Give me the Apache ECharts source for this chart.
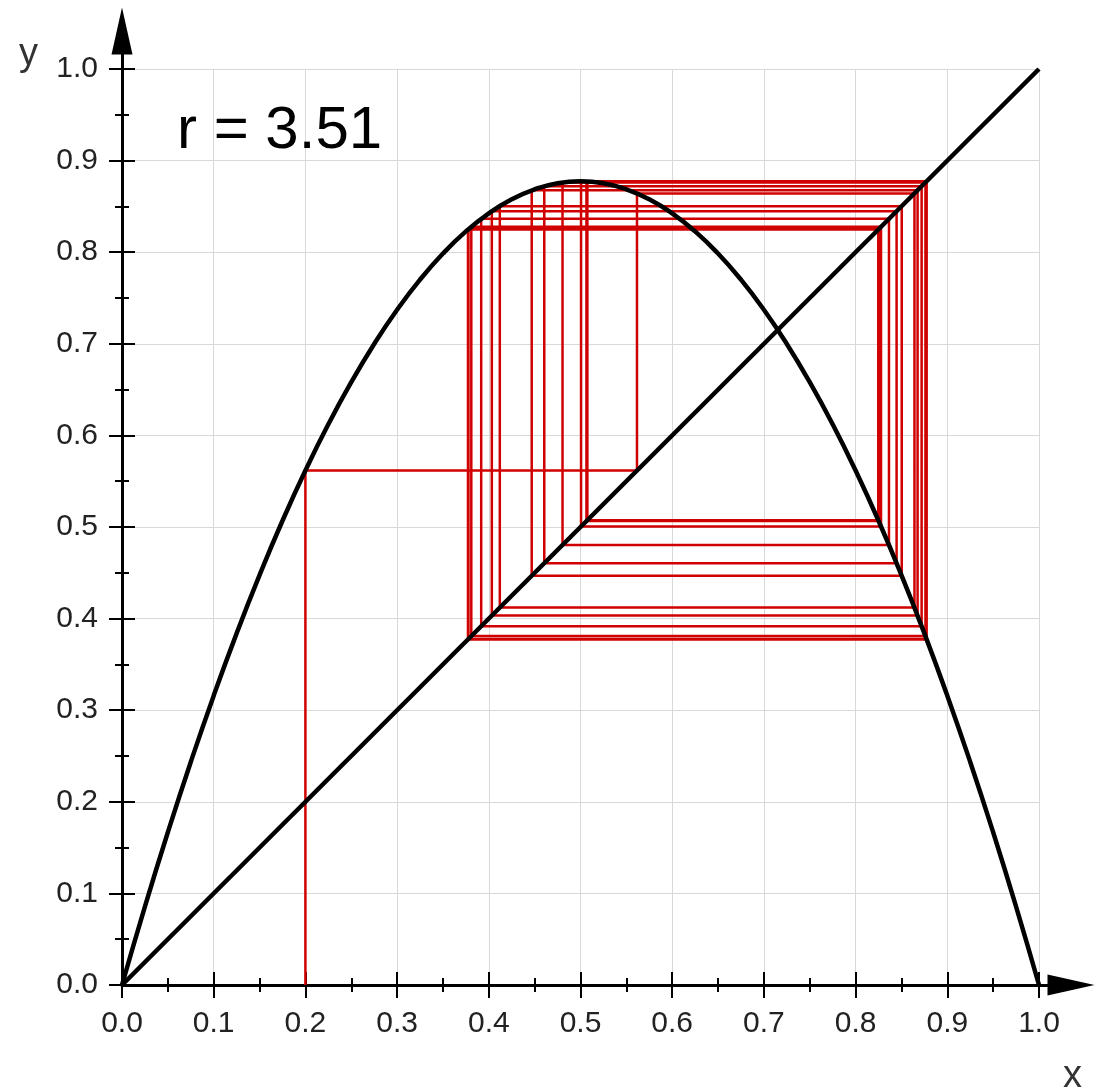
<!DOCTYPE html>
<html>
<head>
<meta charset="utf-8">
<script src="https://cdn.jsdelivr.net/npm/echarts@6/dist/echarts.min.js"></script>
<style>
  html, body { margin: 0; padding: 0; background: #ffffff; }
  #chart { width: 1098px; height: 1091px; }
</style>
</head>
<body>
<div id="chart"></div>
<script>
// Logistic map cobweb diagram, r = 3.51, starting point x0 = 0.2

const titleText = 'r = 3.51';
const xName = 'x';
const yName = 'y';

// Samples of the parabola y = r·x·(1 − x)
const curveX = [0, 0.025, 0.05, 0.075, 0.1, 0.125, 0.15, 0.175, 0.2, 0.225,
                0.25, 0.275, 0.3, 0.325, 0.35, 0.375, 0.4, 0.425, 0.45, 0.475,
                0.5, 0.525, 0.55, 0.575, 0.6, 0.625, 0.65, 0.675, 0.7, 0.725,
                0.75, 0.775, 0.8, 0.825, 0.85, 0.875, 0.9, 0.925, 0.95, 0.975, 1];
const curveY = [0, 0.0856, 0.1667, 0.2435, 0.3159, 0.3839, 0.4475, 0.5068, 0.5616, 0.6121,
                0.6581, 0.6998, 0.7371, 0.7700, 0.7985, 0.8227, 0.8424, 0.8578, 0.8687, 0.8753,
                0.8775, 0.8753, 0.8687, 0.8578, 0.8424, 0.8227, 0.7985, 0.7700, 0.7371, 0.6998,
                0.6581, 0.6121, 0.5616, 0.5068, 0.4475, 0.3839, 0.3159, 0.2435, 0.1667, 0.0856, 0];

// Identity line y = x
const diagonalX = [0, 1];
const diagonalY = [0, 1];

// Successive iterates x0, x1, x2, ...
const orbit = [0.2, 0.5616, 0.8642, 0.4120, 0.8503, 0.4468, 0.8676, 0.4033, 0.8447, 0.4605,
               0.8720, 0.3917, 0.8364, 0.4804, 0.8762, 0.3809, 0.8277, 0.5006, 0.8775, 0.3773,
               0.8247, 0.5075, 0.8773, 0.3778, 0.8251, 0.5065, 0.8774, 0.3777, 0.8250, 0.5068,
               0.8773, 0.3777, 0.8250, 0.5067, 0.8773];

// Cobweb path: up to the curve, across to the diagonal, repeat
const cobweb = [[orbit[0], 0]];
for (let i = 0; i < orbit.length - 1; i++) {
  cobweb.push([orbit[i], orbit[i + 1]]);
  cobweb.push([orbit[i + 1], orbit[i + 1]]);
}
const curve = curveX.map((x, i) => [x, curveY[i]]);
const diagonal = diagonalX.map((x, i) => [x, diagonalY[i]]);

const FONT = '"Liberation Sans", Arial, sans-serif';
const fmt = v => v.toFixed(1);

// Ticks cross the axis: one axis draws the outer half, a twin draws the inner half
function tickAxis(pos, inside, withLabels) {
  return {
    type: 'value', gridIndex: 0, position: pos,
    min: 0, max: 1, interval: 0.1,
    axisLine: { show: false, onZero: false },
    axisTick: { show: true, inside: inside, length: 13, lineStyle: { color: '#000', width: 2 } },
    minorTick: { show: true, splitNumber: 2, length: 7, lineStyle: { color: '#000', width: 2 } },
    axisLabel: {
      show: withLabels, margin: 24, fontSize: 30, color: '#222', fontFamily: FONT, formatter: fmt
    },
    splitLine: { show: withLabels, lineStyle: { color: '#d9d9d9', width: 1 } },
    minorSplitLine: { show: false }
  };
}

// Axis lines running past 1.0 and ending in solid arrowheads
function arrowAxis(pos) {
  return {
    type: 'value', gridIndex: 1, position: pos, min: 0, max: 1,
    axisLine: {
      show: true, onZero: false, symbol: ['none', 'triangle'], symbolSize: [21, 47],
      lineStyle: { color: '#000', width: 3 }
    },
    axisTick: { show: false },
    axisLabel: { show: false },
    splitLine: { show: false }
  };
}

const chart = echarts.init(document.getElementById('chart'), null, { renderer: 'canvas' });
chart.setOption({
  backgroundColor: '#ffffff',
  animation: false,
  title: {
    text: titleText, left: 172, top: 96,
    textStyle: { fontSize: 60, fontWeight: 'normal', color: '#000', fontFamily: FONT }
  },
  grid: [
    { left: 122, right: 59, top: 69, bottom: 106 },
    { left: 122, right: 27, top: 31, bottom: 106 }
  ],
  xAxis: [tickAxis('bottom', false, true), tickAxis('bottom', true, false), arrowAxis('bottom')],
  yAxis: [tickAxis('left', false, true), tickAxis('left', true, false), arrowAxis('left')],
  graphic: [
    { type: 'text', left: 19, top: 36, silent: true,
      style: { text: yName, fontSize: 38, fill: '#333', fontFamily: FONT } },
    { type: 'text', left: 1063, top: 1058, silent: true,
      style: { text: xName, fontSize: 38, fill: '#333', fontFamily: FONT } }
  ],
  series: [
    {
      type: 'line', xAxisIndex: 0, yAxisIndex: 0, data: cobweb,
      showSymbol: false, silent: true, z: 2,
      lineStyle: { color: '#d00000', width: 2.5 }
    },
    {
      type: 'line', xAxisIndex: 0, yAxisIndex: 0, data: curve,
      showSymbol: false, silent: true, smooth: true, z: 3,
      lineStyle: { color: '#000', width: 4.5 }
    },
    {
      type: 'line', xAxisIndex: 0, yAxisIndex: 0, data: diagonal,
      showSymbol: false, silent: true, z: 3,
      lineStyle: { color: '#000', width: 4.5 }
    }
  ]
});
</script>
</body>
</html>
